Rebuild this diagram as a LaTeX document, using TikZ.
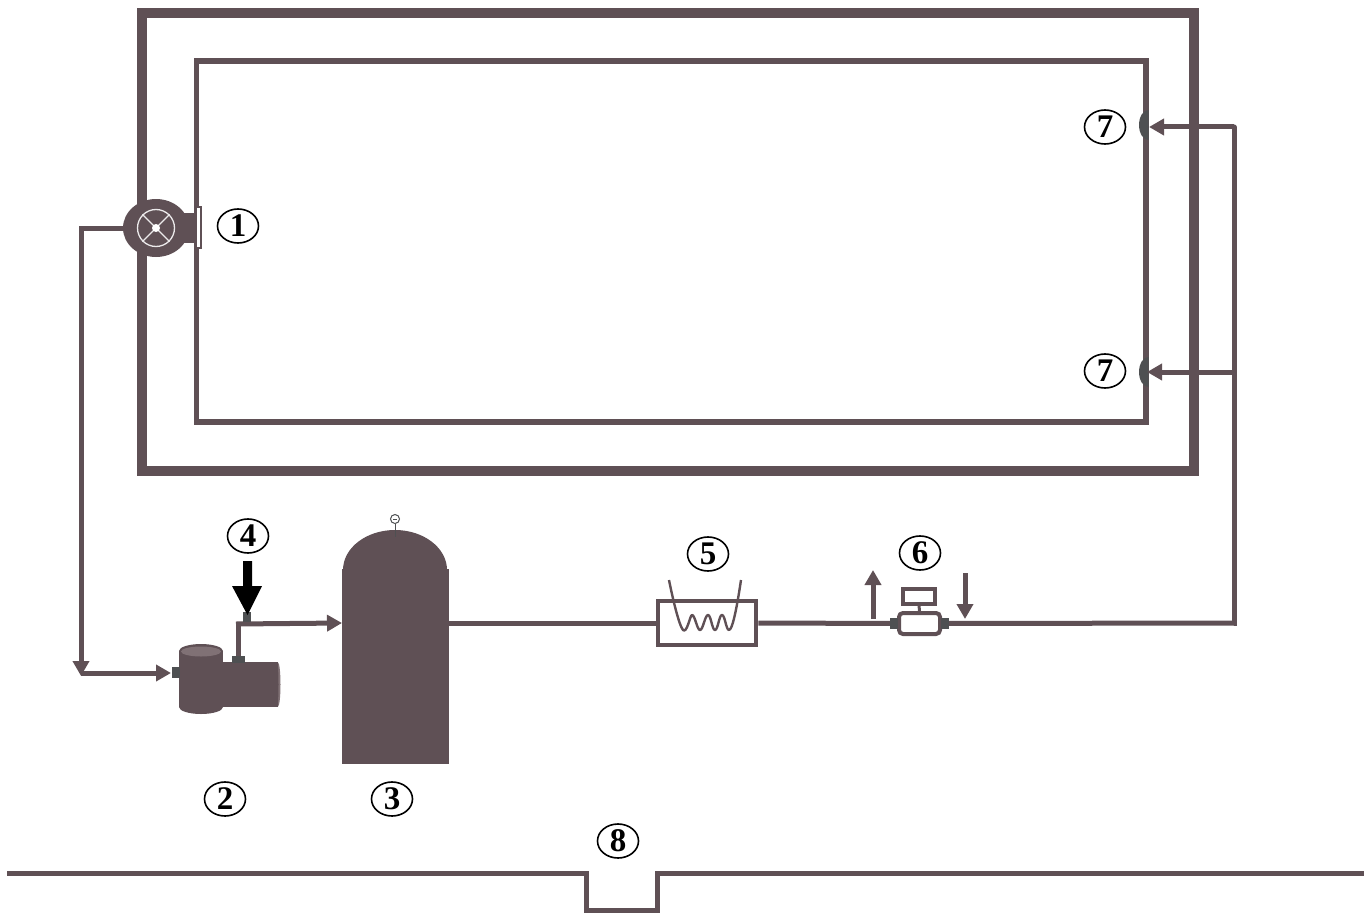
\documentclass[tikz,border=0pt]{standalone}
\usepackage{fontspec}
\setmainfont{Liberation Serif}
\usetikzlibrary{arrows.meta,shapes.geometric,calc}
\definecolor{wallc}{RGB}{95,80,85}
\definecolor{darkc}{RGB}{78,80,82}
\definecolor{lightc}{RGB}{128,113,117}
\tikzset{
  lab/.style={ellipse,draw=black,line width=1.6pt,fill=white,minimum width=41pt,minimum height=34pt,inner sep=0pt,font=\fontsize{33}{33}\selectfont\bfseries},
  pipe/.style={draw=wallc,line width=5pt},
  flow/.style={pipe,-{Triangle[length=15pt,width=16pt]}},
  solid part/.style={fill=wallc,draw=none},
  dark part/.style={fill=darkc,draw=none},
  thin outline/.style={draw=wallc,line width=4pt,fill=white}
}
\begin{document}
\begin{tikzpicture}[x=1pt,y=-1pt]
\useasboundingbox (0,0) rectangle (1372,912);
% pool walls
\node[draw=wallc,line width=10pt,minimum width=1051.5pt,minimum height=458pt,inner sep=0pt] (outer) at (668,242) {};
\node[draw=wallc,line width=5.5pt,minimum width=949.5pt,minimum height=361pt,inner sep=0pt] (inner) at (671.25,241.5) {};
% named points
\coordinate (corner1) at (81,228);
\coordinate (corner2) at (81,676);
\coordinate (pumpin) at (171,673);
\coordinate (pumpleft) at (81,673);
\coordinate (pumptop) at (238,657);
\coordinate (elbow) at (238,624);
\coordinate (tanktip) at (342,623);
\coordinate (tee) at (1234,623);
\coordinate (teeB) at (1234,372);
\coordinate (teeT) at (1234,127);
\coordinate (inletT) at (1149,127);
\coordinate (inletB) at (1147,372);
\coordinate (upS) at (873,619);
\coordinate (upE) at (873,570);
\coordinate (downS) at (965,573);
\coordinate (downE) at (965,619);
% main skimmer
\fill[wallc] (170,213) rectangle (197,243);
\node[ellipse,solid part,minimum width=66pt,minimum height=58pt,inner sep=0pt] (skimmer) at (156,228) {};
\node[circle,draw=white!88!wallc,line width=1.3pt,minimum size=37pt,inner sep=0pt] (wheel) at (156,228) {};
\draw[white!88!wallc,line width=1.3pt] (wheel.45) -- (wheel.225) (wheel.135) -- (wheel.315);
\node[circle,fill=white,minimum size=8pt,inner sep=0pt] (hub) at (156,228) {};
\node[draw=wallc,fill=white,line width=1.6pt,minimum width=4.5pt,minimum height=41pt,inner sep=0pt] (plate) at (198.5,227.5) {};
% return line to pump
\draw[pipe,line cap=butt] (skimmer.west) -- (corner1) -- (corner2|-pumpin);
\draw[flow] (corner1) -- (corner2);
\draw[flow] (pumpleft) -- (pumpin);
% pump
\node[ellipse,fill=lightc,minimum width=5pt,minimum height=44pt,inner sep=0pt] (pumpend) at (278,684.5) {};
\fill[wallc] (223,662) rectangle (277.5,707);
\node[ellipse,fill=wallc,minimum width=3pt,minimum height=44pt,inner sep=0pt] (pumpendb) at (277,684.5) {};
\fill[wallc] (179,651) rectangle (223,707);
\node[ellipse,fill=wallc,minimum width=44pt,minimum height=14pt,inner sep=0pt] (pumpbase) at (201,707) {};
\node[ellipse,fill=wallc,minimum width=44pt,minimum height=14pt,inner sep=0pt] (pumphead) at (201,651) {};
\node[ellipse,fill=lightc,minimum width=40pt,minimum height=10pt,inner sep=0pt] (pumplid) at (201,651.5) {};
\node[dark part,minimum width=8pt,minimum height=11pt,inner sep=0pt] (pumpport) at (175.5,672.5) {};
\draw[pipe] (pumptop) -- (elbow) -- ++(0,0);
\draw[flow] (236,624) -- (tanktip);
\node[dark part,minimum width=13pt,minimum height=7pt,inner sep=0pt] (pumpport2) at (238.5,659.5) {};
\node[dark part,minimum width=8pt,minimum height=10pt,inner sep=0pt] (dosport) at (247,617) {};
\fill[black] (243,561) -- (252,561) -- (252,586) -- (262,586) -- (247.5,615) -- (232,586) -- (243,586) -- cycle;
% tank
\fill[wallc] (342,569) rectangle (449,764);
\fill[wallc] (343,570) arc[start angle=180,end angle=0,x radius=52pt,y radius=40pt] -- cycle;
\node[circle,draw=darkc,line width=1pt,fill=white,minimum size=9pt,inner sep=0pt] (gauge) at (395,519) {};
\draw[darkc,line width=1pt] (gauge.south) -- (395,537);
\draw[darkc,line width=0.9pt] (393,519) -- (397,519);
% main line
\coordinate (tankout) at (449,623);
\node[thin outline,minimum width=98.5pt,minimum height=44.5pt,inner sep=0pt] (heater) at (707,623) {};
\node[draw=wallc,line width=4pt,fill=white,rounded corners=4pt,minimum width=41pt,minimum height=21pt,inner sep=0pt] (meter) at (919.5,623.5) {};
\draw[pipe] (tankout) -- (heater.west);
\draw[pipe] (heater.east) -- (meter.west);
\draw[pipe] (meter.east) -- (tee);
\draw[wallc,line width=2.4pt,line join=round] (669,580) .. controls (673,600) and (679,625) .. (683,630) .. controls (687,634) and (690,615) .. (692,615)
  .. controls (695,615) and (697,630) .. (700,630) .. controls (703,630) and (705,615) .. (708,615)
  .. controls (711,615) and (712,630) .. (715,630) .. controls (718,630) and (719,615) .. (722,615)
  .. controls (725,615) and (726,630) .. (729,630) .. controls (733,630) and (738,600) .. (741,580);
\node[dark part,minimum width=8pt,minimum height=11pt,inner sep=0pt] (mportL) at (894,623.5) {};
\node[dark part,minimum width=8pt,minimum height=11pt,inner sep=0pt] (mportR) at (944.5,623.5) {};
\node[thin outline,minimum width=32.5pt,minimum height=15pt,inner sep=0pt] (display) at (919,596) {};
\draw[wallc,line width=3pt] (display.south) -- (meter.north);
\draw[flow] (upS) -- (upE);
\draw[flow] (downS) -- (downE);
% return risers
\draw[pipe,line cap=round] (tee) -- (teeT);
\draw[pipe] (1236.5,623) -- (tee);
\fill[darkc] (1148.5,110) arc[start angle=90,end angle=270,x radius=9.5pt,y radius=15pt] -- cycle;
\fill[darkc] (1148.5,357) arc[start angle=90,end angle=270,x radius=9.5pt,y radius=15pt] -- cycle;
\draw[flow] (teeT) -- (inletT);
\draw[flow] (teeB) -- (inletB);
% ground
\coordinate (g1) at (7,873.5);
\coordinate (g2) at (586,873.5);
\coordinate (g3) at (586,910);
\coordinate (g4) at (657.5,910);
\coordinate (g5) at (657.5,873.5);
\coordinate (g6) at (1364,873.5);
\draw[pipe] (g1) -- (g2) -- (g3) -- (g4) -- (g5) -- (g6);
% labels
\node[lab] (l1) at (238,226) {1};
\node[lab] (l2) at (225,799) {2};
\node[lab] (l3) at (392,799) {3};
\node[lab] (l4) at (248,536) {4};
\node[lab] (l5) at (708,554) {5};
\node[lab] (l6) at (920,553) {6};
\node[lab] (l7a) at (1105,127) {7};
\node[lab] (l7b) at (1105,371) {7};
\node[lab] (l8) at (618,841) {8};
\end{tikzpicture}
\end{document}
